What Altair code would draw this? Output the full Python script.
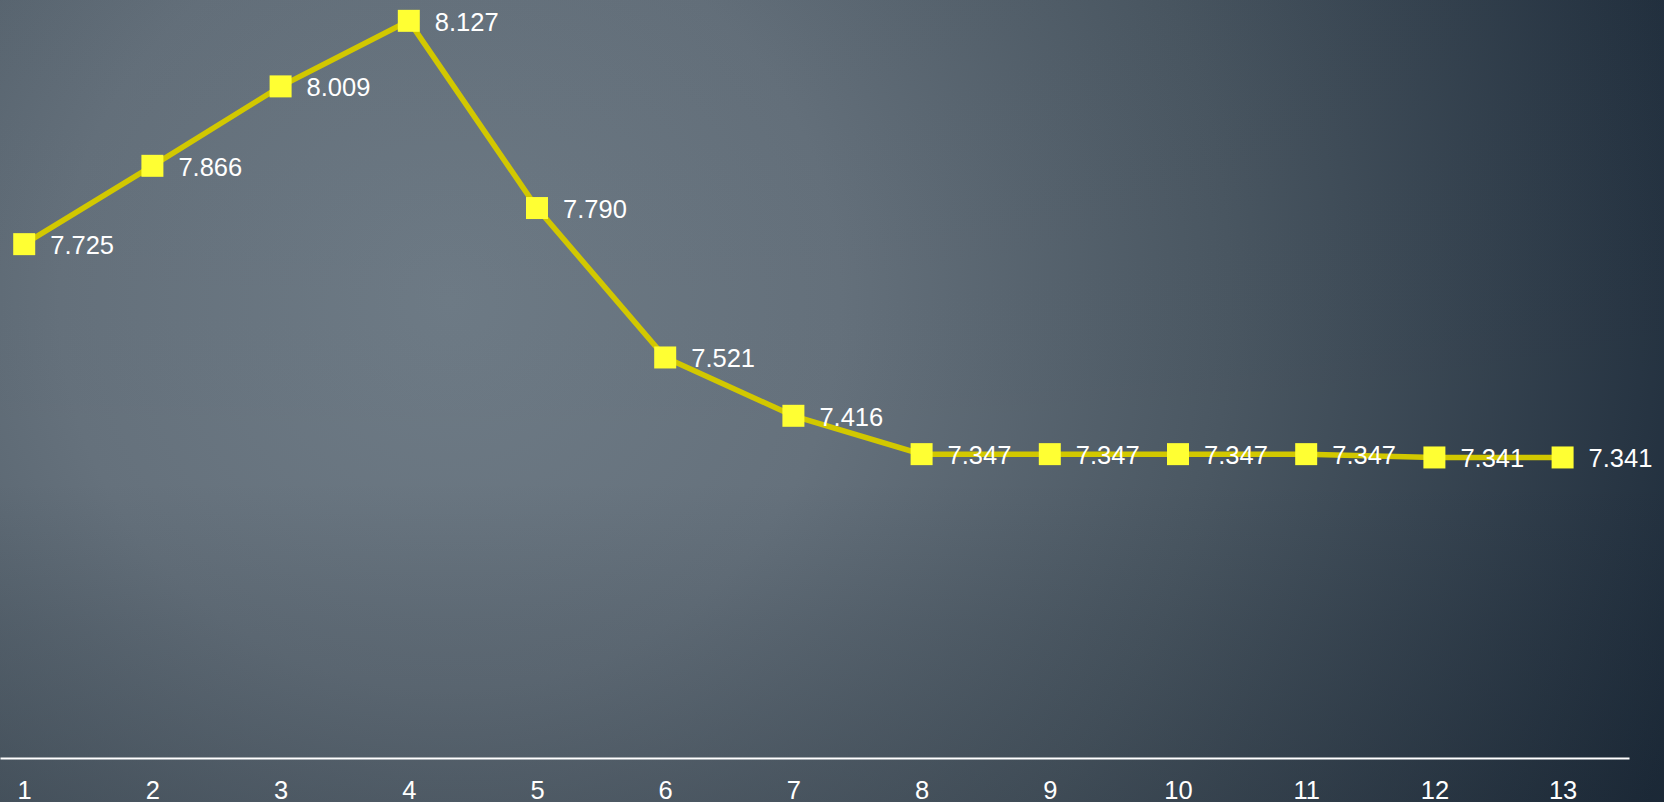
import altair as alt
import pandas as pd

# Series: one value per step
steps = [1, 2, 3, 4, 5, 6, 7, 8, 9, 10, 11, 12, 13]
values = [7.725, 7.866, 8.009, 8.127, 7.790, 7.521, 7.416,
          7.347, 7.347, 7.347, 7.347, 7.341, 7.341]

# Scale extents
x_domain = [0.8112, 13.518]
y_domain = [6.8, 8.1645]

PLOT_W, PLOT_H = 1629, 758
FULL_W, FULL_H = 1664, 802
FONT = "Liberation Sans"

df = pd.DataFrame({"step": steps, "value": values})
one_row = pd.DataFrame({"k": [0]})

x_enc = alt.X(
    "step:Q",
    scale=alt.Scale(domain=x_domain, nice=False, zero=False),
    axis=alt.Axis(
        values=steps, format="d", grid=False, ticks=False, title=None,
        domainColor="white", domainWidth=2, labelColor="white",
        labelFontSize=25.5, labelFont=FONT, labelPadding=20,
        labelFlush=False, labelOverlap=False, zindex=1,
    ),
)
y_enc = alt.Y(
    "value:Q",
    scale=alt.Scale(domain=y_domain, nice=False, zero=False),
    axis=None,
)

# Slate backdrop: radial glow towards the upper left, darker to the right
glow = alt.RadialGradient(
    gradient="radial",
    stops=[
        alt.GradientStop(offset=0.0, color="#6e7b86"),
        alt.GradientStop(offset=0.3, color="#65717c"),
        alt.GradientStop(offset=0.6, color="#4a5762"),
        alt.GradientStop(offset=1.0, color="#1e2c3b"),
    ],
    x1=0.2704, y1=0.4393, r1=0.0,
    x2=0.2704, y2=0.4393, r2=0.781,
)
shade = alt.LinearGradient(
    gradient="linear",
    stops=[
        alt.GradientStop(offset=0.0, color="rgba(16,26,36,0.03)"),
        alt.GradientStop(offset=0.6, color="rgba(16,26,36,0)"),
        alt.GradientStop(offset=0.78, color="rgba(16,26,36,0.11)"),
        alt.GradientStop(offset=1.0, color="rgba(16,26,36,0.2)"),
    ],
    x1=0, y1=0, x2=0, y2=1,
)

def backdrop(fill):
    return alt.Chart(one_row).mark_rect(fill=fill, strokeWidth=0).encode(
        x=alt.value(0), x2=alt.value(FULL_W),
        y=alt.value(0), y2=alt.value(FULL_H),
    )

base = alt.Chart(df).encode(x=x_enc, y=y_enc)

line = base.mark_line(color="#d2c800", strokeWidth=5.5)
markers = base.mark_square(size=484, color="#ffff33", opacity=1)
labels = base.mark_text(
    align="left", baseline="middle", dx=26, dy=2,
    fontSize=25.5, font=FONT, color="white",
).encode(text=alt.Text("value:Q", format=".3f"))

chart = (
    alt.layer(backdrop(glow), backdrop(shade), line, markers, labels)
    .properties(
        width=PLOT_W, height=PLOT_H,
        autosize=alt.AutoSizeParams(type="none"),
        padding={"left": 0, "top": 0, "right": FULL_W - PLOT_W, "bottom": FULL_H - PLOT_H},
        background="#1e2c3b",
    )
    .configure_view(stroke=None)
)

chart.save("out.html", embed_options={"renderer": "svg", "actions": False})
